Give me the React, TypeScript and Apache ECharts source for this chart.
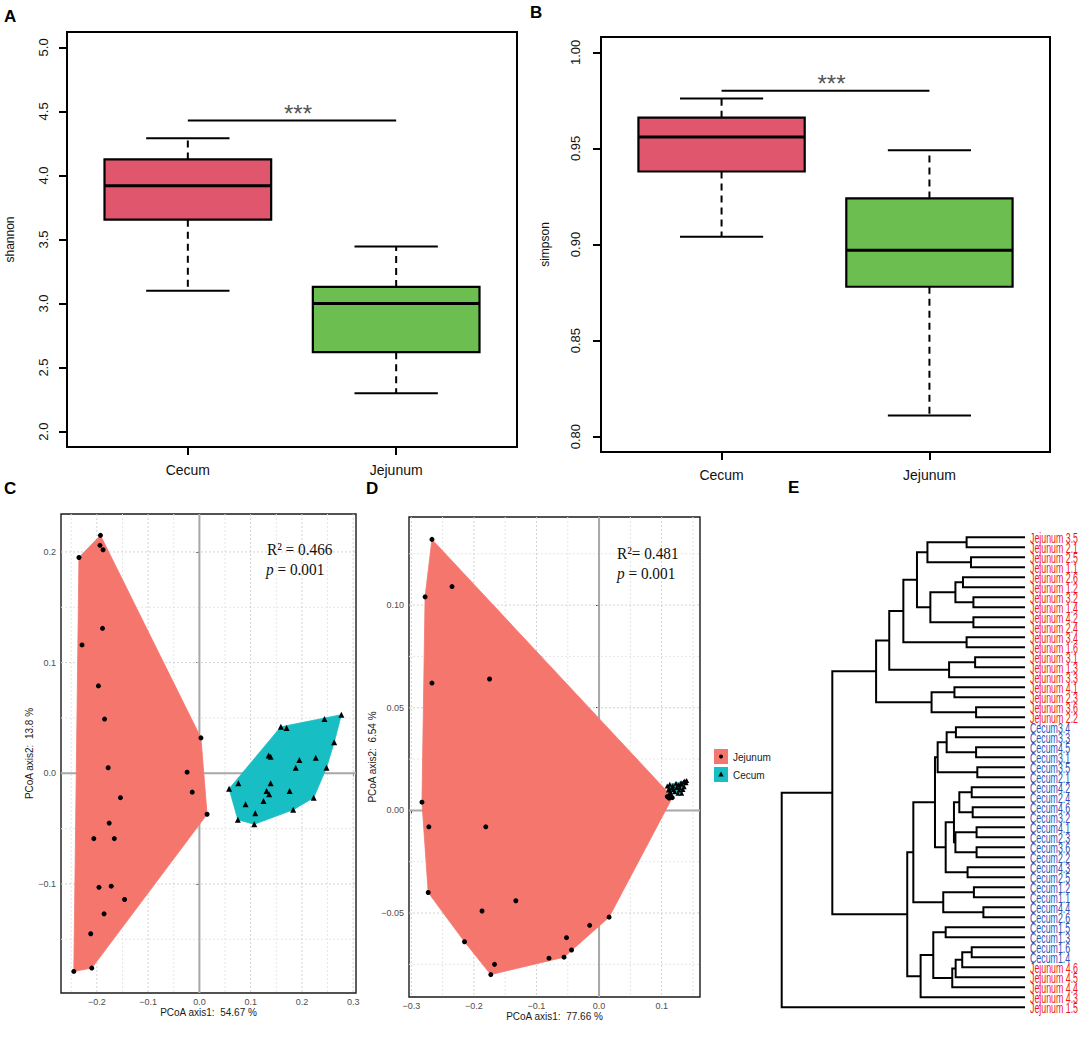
import React, { useEffect, useRef } from "react";
import * as echarts from "echarts";

const FONT = "'Liberation Sans', Arial, Helvetica, sans-serif";
const SERIF = "'Liberation Serif', 'Times New Roman', serif";

// ---------- Panels A / B : boxplots ----------
const groups = ["Cecum", "Jejunum"];
// [min, Q1, median, Q3, max]
const shannonBox = [
  [3.1, 3.655, 3.92, 4.125, 4.29],
  [2.3, 2.62, 3.0, 3.13, 3.445],
];
const simpsonBox = [
  [0.904, 0.938, 0.956, 0.966, 0.976],
  [0.811, 0.878, 0.897, 0.924, 0.949],
];
const shannonTicks = [2.0, 2.5, 3.0, 3.5, 4.0, 4.5, 5.0];
const simpsonTicks = [0.8, 0.85, 0.9, 0.95, 1.0];
const groupTicks = [1, 2];
// [from group, to group, y]
const shannonSig = [[1, 2, 4.43]];
const simpsonSig = [[1, 2, 0.98]];
const sigText = "***";

// ---------- Panels C / D : PCoA ----------
const pcoaC_Jejunum = [
  [-0.193, 0.215], [-0.194, 0.206], [-0.188, 0.202], [-0.235, 0.195], [-0.189, 0.131],
  [-0.229, 0.116], [-0.197, 0.079], [-0.185, 0.049], [0.003, 0.032], [-0.178, 0.005],
  [-0.024, 0.001], [-0.014, -0.017], [-0.154, -0.022], [0.015, -0.037], [-0.176, -0.045],
  [-0.206, -0.059], [-0.166, -0.059], [-0.196, -0.103], [-0.172, -0.102], [-0.146, -0.114],
  [-0.186, -0.127], [-0.212, -0.145], [-0.21, -0.176], [-0.245, -0.179],
];
const pcoaC_Cecum = [
  [0.277, 0.053], [0.244, 0.049], [0.159, 0.042], [0.17, 0.041], [0.263, 0.028],
  [0.135, 0.016], [0.139, 0.015], [0.227, 0.014], [0.195, 0.012], [0.248, 0.005],
  [0.188, 0.005], [0.139, -0.009], [0.076, -0.009], [0.058, -0.014], [0.131, -0.016],
  [0.136, -0.019], [0.176, -0.016], [0.223, -0.022], [0.125, -0.025], [0.09, -0.028],
  [0.109, -0.036], [0.183, -0.033], [0.075, -0.042], [0.107, -0.046],
];
const pcoaD_Jejunum = [
  [-0.267, 0.132], [-0.235, 0.109], [-0.278, 0.104], [-0.175, 0.064], [-0.267, 0.062],
  [-0.283, 0.004], [-0.272, -0.008], [-0.181, -0.008], [-0.273, -0.04], [-0.133, -0.044],
  [-0.187, -0.049], [0.016, -0.052], [-0.015, -0.056], [-0.052, -0.062], [-0.215, -0.064],
  [-0.044, -0.068], [-0.056, -0.0715], [-0.08, -0.072], [-0.167, -0.075], [-0.173, -0.08],
  [0.109, 0.0067], [0.112, 0.006], [0.117, 0.0062], [0.114, 0.0075],
];
const pcoaD_Cecum = [
  [0.109, 0.0119], [0.113, 0.0127], [0.118, 0.012], [0.123, 0.0132], [0.127, 0.0124],
  [0.131, 0.0135], [0.135, 0.0138], [0.137, 0.0143], [0.14, 0.0145], [0.132, 0.0127],
  [0.124, 0.0112], [0.119, 0.0102], [0.114, 0.0093], [0.112, 0.0106], [0.121, 0.0091],
  [0.126, 0.0083], [0.132, 0.0083], [0.128, 0.0099], [0.136, 0.0115], [0.139, 0.0135],
  [0.117, 0.0112], [0.111, 0.0099], [0.129, 0.0112], [0.134, 0.0102],
];
const cMajorX = [-0.2, -0.1, 0, 0.1, 0.2, 0.3];
const cMinorX = [-0.25, -0.15, -0.05, 0.05, 0.15, 0.25];
const cMajorY = [-0.1, 0, 0.1, 0.2];
const cMinorY = [-0.15, -0.05, 0.05, 0.15];
const dMajorX = [-0.3, -0.2, -0.1, 0, 0.1];
const dMinorX = [-0.25, -0.15, -0.05, 0.05, 0.15];
const dMajorY = [-0.05, 0, 0.05, 0.1];
const dMinorY = [-0.075, -0.025, 0.025, 0.075, 0.125];
const zeroLines = [0];

// ---------- Panel E : dendrogram ----------
const dendroLeaves = [
  "Jejunum 3.5", "Jejunum 2.1", "Jejunum 2.5", "Jejunum 1.1", "Jejunum 2.6", "Jejunum 1.2",
  "Jejunum 3.2", "Jejunum 1.4", "Jejunum 4.2", "Jejunum 2.4", "Jejunum 3.4", "Jejunum 1.6",
  "Jejunum 3.1", "Jejunum 1.3", "Jejunum 3.3", "Jejunum 4.1", "Jejunum 2.3", "Jejunum 3.6",
  "Jejunum 2.2", "Cecum3.4", "Cecum3.3", "Cecum4.5", "Cecum3.1", "Cecum3.5", "Cecum2.1",
  "Cecum4.2", "Cecum2.4", "Cecum4.6", "Cecum3.2", "Cecum4.1", "Cecum2.3", "Cecum3.6",
  "Cecum2.2", "Cecum4.3", "Cecum2.5", "Cecum1.2", "Cecum1.1", "Cecum4.4", "Cecum2.6",
  "Cecum1.5", "Cecum1.3", "Cecum1.6", "Cecum1.4", "Jejunum 4.6", "Jejunum 4.5",
  "Jejunum 4.4", "Jejunum 4.3", "Jejunum 1.5",
];
// [child A, child B, height]; numbers = leaf index, "#k" = merge k
const dendroMerges: any[] = [
  [0, 1, 0.24], [2, 3, 0.222], ["#0", "#1", 0.401], [4, 5, 0.255], [6, 7, 0.212],
  ["#3", "#4", 0.286], [8, 9, 0.212], ["#5", "#6", 0.389], ["#2", "#7", 0.444], [10, 11, 0.24],
  ["#8", "#9", 0.5], [12, 13, 0.205], ["#11", 14, 0.312], ["#10", "#12", 0.558], [15, 16, 0.29],
  [17, 18, 0.201], ["#14", "#15", 0.384], ["#13", "#16", 0.612], [19, 20, 0.284], [21, 22, 0.201],
  ["#18", "#19", 0.322], [23, 24, 0.196], ["#20", "#21", 0.359], [25, 26, 0.219], [27, 28, 0.215],
  ["#23", "#24", 0.27], [29, 30, 0.199], [31, 32, 0.199], ["#26", "#27", 0.286], ["#25", "#28", 0.292],
  [33, 34, 0.236], ["#29", "#30", 0.326], ["#22", "#31", 0.37], [35, 36, 0.21], [37, 38, 0.171],
  ["#33", "#34", 0.336], ["#32", "#35", 0.459], [39, 40, 0.326], [41, 42, 0.219], ["#38", 43, 0.258],
  ["#39", 44, 0.285], ["#40", 45, 0.299], ["#37", "#41", 0.377], ["#42", 46, 0.429], ["#36", "#43", 0.484],
  ["#17", "#44", 0.792], ["#45", 47, 1.0],
];

const BOX_COLORS = ["#DF566D", "#6CBE51"];
const JEJ_FILL = "#F4766D";
const CEC_FILL = "#17BEC3";
const JEJ_TEXT = "#F01515";
const CEC_TEXT = "#3050B5";

function convexHull(pts: number[][]) {
  const p = pts.slice().sort((a, b) => a[0] - b[0] || a[1] - b[1]);
  const cross = (o, a, b) => (a[0] - o[0]) * (b[1] - o[1]) - (a[1] - o[1]) * (b[0] - o[0]);
  const lower: number[][] = [];
  for (const q of p) {
    while (lower.length >= 2 && cross(lower[lower.length - 2], lower[lower.length - 1], q) <= 0) lower.pop();
    lower.push(q);
  }
  const upper: number[][] = [];
  for (let i = p.length - 1; i >= 0; i--) {
    const q = p[i];
    while (upper.length >= 2 && cross(upper[upper.length - 2], upper[upper.length - 1], q) <= 0) upper.pop();
    upper.push(q);
  }
  upper.pop();
  lower.pop();
  return lower.concat(upper);
}

function boxSeries(ai: number, boxes: number[][]) {
  return {
    type: "custom",
    xAxisIndex: ai,
    yAxisIndex: ai,
    silent: true,
    z: 3,
    data: boxes.map((b, i) => [i + 1, ...b]),
    renderItem: (params: any, api: any) => {
      const x = api.value(0);
      const yMin = api.coord([x, api.value(1)])[1];
      const yQ1 = api.coord([x, api.value(2)])[1];
      const c = api.coord([x, api.value(3)]);
      const yQ3 = api.coord([x, api.value(4)])[1];
      const yMax = api.coord([x, api.value(5)])[1];
      const cx = c[0];
      const hw = api.size([0.4, 0])[0];
      const cw = api.size([0.2, 0])[0];
      const dash = { stroke: "#000", lineWidth: 2, lineDash: [7, 5] };
      const solid = { stroke: "#000", lineWidth: 2 };
      return {
        type: "group",
        children: [
          { type: "line", shape: { x1: cx, y1: yQ3, x2: cx, y2: yMax }, style: dash },
          { type: "line", shape: { x1: cx, y1: yQ1, x2: cx, y2: yMin }, style: dash },
          { type: "line", shape: { x1: cx - cw, y1: yMax, x2: cx + cw, y2: yMax }, style: solid },
          { type: "line", shape: { x1: cx - cw, y1: yMin, x2: cx + cw, y2: yMin }, style: solid },
          {
            type: "rect",
            shape: { x: cx - hw, y: yQ3, width: 2 * hw, height: yQ1 - yQ3 },
            style: { fill: BOX_COLORS[params.dataIndex], stroke: "#000", lineWidth: 2.2 },
          },
          { type: "line", shape: { x1: cx - hw, y1: c[1], x2: cx + hw, y2: c[1] }, style: { stroke: "#000", lineWidth: 3 } },
        ],
      };
    },
  };
}

function sigSeries(ai: number, sig: number[][]) {
  return {
    type: "custom",
    xAxisIndex: ai,
    yAxisIndex: ai,
    silent: true,
    z: 3,
    data: sig,
    renderItem: (params: any, api: any) => {
      const p1 = api.coord([api.value(0), api.value(2)]);
      const p2 = api.coord([api.value(1), api.value(2)]);
      return {
        type: "group",
        children: [
          { type: "line", shape: { x1: p1[0], y1: p1[1], x2: p2[0], y2: p2[1] }, style: { stroke: "#000", lineWidth: 2 } },
          {
            type: "text",
            x: (p1[0] + p2[0]) / 2 + 6,
            y: p1[1] + 5,
            style: { text: sigText, fill: "#555", fontSize: 24, fontFamily: FONT, align: "center", verticalAlign: "bottom" },
          },
        ],
      };
    },
  };
}

function boxXAxis(gi: number, margin: number) {
  return {
    type: "value",
    gridIndex: gi,
    min: 0.42,
    max: 2.58,
    axisLine: { show: false },
    splitLine: { show: false },
    axisTick: { show: true, length: 8, lineStyle: { color: "#000", width: 2 }, customValues: groupTicks },
    axisLabel: {
      customValues: groupTicks,
      formatter: (v: number) => groups[Math.round(v) - 1],
      margin,
      fontSize: 14,
      color: "#111",
      fontFamily: FONT,
    },
  };
}

function boxYAxis(gi: number, min: number, max: number, ticks: number[], dec: number, name: string, margin: number, gap: number) {
  return {
    type: "value",
    gridIndex: gi,
    min,
    max,
    axisLine: { show: false },
    splitLine: { show: false },
    axisTick: { show: true, length: 8, lineStyle: { color: "#000", width: 2 }, customValues: ticks },
    axisLabel: {
      customValues: ticks,
      rotate: 90,
      formatter: (v: number) => v.toFixed(dec),
      margin,
      fontSize: 13,
      color: "#111",
      fontFamily: FONT,
    },
    name,
    nameLocation: "middle",
    nameRotate: 90,
    nameGap: gap,
    nameTextStyle: { fontSize: 12, color: "#111", fontFamily: FONT },
  };
}

const fmtSigned = (dec: number) => (v: number) => {
  const s = Math.abs(v).toFixed(dec);
  return v < -1e-9 ? "\u2212" + s : s;
};

function pcoaAxis(kind: "x" | "y", gi: number, min: number, max: number, ticks: number[], dec: number, name: string, gap: number) {
  return {
    type: "value",
    gridIndex: gi,
    min,
    max,
    axisLine: { show: false },
    splitLine: { show: false },
    axisTick: { show: true, length: 3, lineStyle: { color: "#333", width: 1 }, customValues: ticks },
    axisLabel: {
      customValues: ticks,
      formatter: fmtSigned(dec),
      margin: kind === "x" ? 4 : 5,
      fontSize: 9,
      color: "#4D4D4D",
      fontFamily: FONT,
    },
    name,
    nameLocation: "middle",
    nameGap: gap,
    nameRotate: kind === "y" ? 90 : 0,
    nameTextStyle: { fontSize: 10, color: "#1A1A1A", fontFamily: FONT },
  };
}

function refLineSeries(ai: number, xs: number[], ys: number[], stroke: string, width: number, dash: any, z: number) {
  const data = [...xs.map((v) => [v, 0]), ...ys.map((v) => [v, 1])];
  return {
    type: "custom",
    xAxisIndex: ai,
    yAxisIndex: ai,
    silent: true,
    z,
    data,
    renderItem: (params: any, api: any) => {
      const cs = params.coordSys;
      const v = api.value(0);
      const o = api.value(1);
      const style = { stroke, lineWidth: width, lineDash: dash };
      if (o === 0) {
        const px = api.coord([v, 0])[0];
        return { type: "line", shape: { x1: px, y1: cs.y, x2: px, y2: cs.y + cs.height }, style };
      }
      const py = api.coord([0, v])[1];
      return { type: "line", shape: { x1: cs.x, y1: py, x2: cs.x + cs.width, y2: py }, style };
    },
  };
}

function hullSeries(ai: number, pts: number[][], fill: string) {
  const hull = convexHull(pts);
  return {
    type: "custom",
    xAxisIndex: ai,
    yAxisIndex: ai,
    silent: true,
    z: 3,
    data: hull,
    renderItem: (params: any, api: any) => {
      if (params.dataIndex !== 0) return null;
      const points = hull.map((p) => api.coord(p));
      return { type: "polygon", shape: { points }, style: { fill, stroke: fill, lineWidth: 0.8 } };
    },
  };
}

function pointSeries(ai: number, pts: number[][], symbol: string, size: number) {
  return {
    type: "scatter",
    xAxisIndex: ai,
    yAxisIndex: ai,
    silent: true,
    z: 4,
    symbol,
    symbolSize: size,
    itemStyle: { color: "#000", opacity: 1 },
    data: pts,
  };
}

// dendrogram layout from merges
const nodeY: number[] = [];
const nodeH: number[] = [];
const dendroSegments = dendroMerges.map(([a, b, h], k) => {
  const ref = (c: any) =>
    typeof c === "number" ? { y: c, h: 0 } : { y: nodeY[+c.slice(1)], h: nodeH[+c.slice(1)] };
  const A = ref(a);
  const B = ref(b);
  nodeY[k] = (A.y + B.y) / 2;
  nodeH[k] = h;
  return [A.h, A.y, B.h, B.y, h];
});

function App() {
  const ref = useRef<HTMLDivElement>(null);
  useEffect(() => {
    document.body.style.margin = "0";
    const chart = echarts.init(ref.current!, null, { renderer: "svg" });
    const gridBase = { show: true, backgroundColor: "transparent", borderColor: "#000", outerBoundsMode: "none", containLabel: false };
    const option: any = {
      animation: false,
      backgroundColor: "#fff",
      grid: [
        { ...gridBase, left: 67, top: 32, width: 450, height: 415, borderWidth: 2 },
        { ...gridBase, left: 601, top: 37, width: 449, height: 415, borderWidth: 2 },
        { ...gridBase, left: 61, top: 514, width: 295, height: 479, borderWidth: 1.4, borderColor: "#1a1a1a" },
        { ...gridBase, left: 409, top: 517, width: 291, height: 480, borderWidth: 1.4, borderColor: "#1a1a1a" },
        { left: 781.7, top: 537.3, width: 243.3, height: 470, show: false, outerBoundsMode: "none", containLabel: false },
      ],
      xAxis: [
        boxXAxis(0, 16),
        boxXAxis(1, 16),
        pcoaAxis("x", 2, -0.27, 0.3055, cMajorX, 1, "PCoA axis1:  54.67 %", 14),
        pcoaAxis("x", 3, -0.3037, 0.1613, dMajorX, 1, "PCoA axis1:  77.66 %", 14),
        { type: "value", gridIndex: 4, min: 0, max: 1, inverse: true, show: false },
      ],
      yAxis: [
        boxYAxis(0, 1.88, 5.12, shannonTicks, 1, "shannon", 17, 51),
        boxYAxis(1, 0.792, 1.008, simpsonTicks, 2, "simpson", 19, 50),
        pcoaAxis("y", 2, -0.1985, 0.2343, cMajorY, 1, "PCoA axis2:  13.8 %", 20),
        pcoaAxis("y", 3, -0.0909, 0.1429, dMajorY, 2, "PCoA axis2:  6.54 %", 26),
        { type: "value", gridIndex: 4, min: 0, max: 47, inverse: true, show: false },
      ],
      series: [
        boxSeries(0, shannonBox),
        sigSeries(0, shannonSig),
        boxSeries(1, simpsonBox),
        sigSeries(1, simpsonSig),
        // C
        refLineSeries(2, cMinorX, cMinorY, "#E6E6E6", 1, [2, 2], 1),
        refLineSeries(2, cMajorX, cMajorY, "#D2D2D2", 1, [2, 2], 1),
        refLineSeries(2, zeroLines, zeroLines, "#A8A8A8", 2, null, 2),
        hullSeries(2, pcoaC_Jejunum, JEJ_FILL),
        hullSeries(2, pcoaC_Cecum, CEC_FILL),
        pointSeries(2, pcoaC_Jejunum, "circle", 5),
        pointSeries(2, pcoaC_Cecum, "triangle", 6),
        // D
        refLineSeries(3, dMinorX, dMinorY, "#E6E6E6", 1, [2, 2], 1),
        refLineSeries(3, dMajorX, dMajorY, "#D2D2D2", 1, [2, 2], 1),
        refLineSeries(3, zeroLines, zeroLines, "#A8A8A8", 2, null, 2),
        hullSeries(3, pcoaD_Jejunum, JEJ_FILL),
        hullSeries(3, pcoaD_Cecum, CEC_FILL),
        pointSeries(3, pcoaD_Jejunum, "circle", 5),
        pointSeries(3, pcoaD_Cecum, "triangle", 5),
        // E
        {
          type: "custom",
          xAxisIndex: 4,
          yAxisIndex: 4,
          silent: true,
          z: 3,
          data: dendroSegments,
          renderItem: (params: any, api: any) => {
            const hA = api.value(0), yA = api.value(1), hB = api.value(2), yB = api.value(3), h = api.value(4);
            const points = [api.coord([hA, yA]), api.coord([h, yA]), api.coord([h, yB]), api.coord([hB, yB])];
            return { type: "polyline", shape: { points }, style: { stroke: "#000", lineWidth: 2, fill: null } };
          },
        },
        {
          type: "custom",
          xAxisIndex: 4,
          yAxisIndex: 4,
          silent: true,
          z: 3,
          data: dendroLeaves.map((_, i) => [0, i]),
          renderItem: (params: any, api: any) => {
            const p = api.coord([api.value(0), api.value(1)]);
            const label = dendroLeaves[params.dataIndex];
            return {
              type: "text",
              x: p[0] + 5,
              y: p[1] + 0.5,
              scaleX: 0.63,
              style: {
                text: label,
                fill: label.startsWith("Jejunum") ? JEJ_TEXT : CEC_TEXT,
                fontSize: 14,
                fontFamily: FONT,
                align: "left",
                verticalAlign: "middle",
              },
            };
          },
        },
      ],
      graphic: [
        { type: "text", x: 4, y: 8, style: { text: "A", fontSize: 17, fontWeight: "bold", fontFamily: FONT, fill: "#000", verticalAlign: "top" } },
        { type: "text", x: 530, y: 4, style: { text: "B", fontSize: 17, fontWeight: "bold", fontFamily: FONT, fill: "#000", verticalAlign: "top" } },
        { type: "text", x: 4, y: 480, style: { text: "C", fontSize: 17, fontWeight: "bold", fontFamily: FONT, fill: "#000", verticalAlign: "top" } },
        { type: "text", x: 366, y: 480, style: { text: "D", fontSize: 17, fontWeight: "bold", fontFamily: FONT, fill: "#000", verticalAlign: "top" } },
        { type: "text", x: 788, y: 479, style: { text: "E", fontSize: 17, fontWeight: "bold", fontFamily: FONT, fill: "#000", verticalAlign: "top" } },
        // C annotation
        { type: "text", x: 267, y: 549, scaleX: 0.9, z: 10, style: { text: "R\u00B2 = 0.466", fontSize: 17, fontFamily: SERIF, fill: "#111", verticalAlign: "middle" } },
        {
          type: "text", x: 266, y: 569, scaleX: 0.9, z: 10,
          style: { text: "{i|p} = 0.001", fontSize: 17, fontFamily: SERIF, fill: "#111", verticalAlign: "middle", rich: { i: { fontStyle: "italic", fontSize: 17, fontFamily: SERIF, fill: "#111" } } },
        },
        // D annotation
        { type: "text", x: 617, y: 553, scaleX: 0.9, z: 10, style: { text: "R\u00B2= 0.481", fontSize: 17, fontFamily: SERIF, fill: "#111", verticalAlign: "middle" } },
        {
          type: "text", x: 617, y: 573, scaleX: 0.9, z: 10,
          style: { text: "{i|p} = 0.001", fontSize: 17, fontFamily: SERIF, fill: "#111", verticalAlign: "middle", rich: { i: { fontStyle: "italic", fontSize: 17, fontFamily: SERIF, fill: "#111" } } },
        },
        // legend
        { type: "rect", shape: { x: 714, y: 749, width: 14, height: 15 }, style: { fill: JEJ_FILL } },
        { type: "circle", shape: { cx: 721, cy: 756.5, r: 2 }, style: { fill: "#000" } },
        { type: "rect", shape: { x: 714, y: 767, width: 14, height: 15 }, style: { fill: CEC_FILL } },
        { type: "polygon", shape: { points: [[721, 771.5], [718.3, 776.5], [723.7, 776.5]] }, style: { fill: "#000" } },
        { type: "text", x: 733, y: 757, style: { text: "Jejunum", fontSize: 10, fontFamily: FONT, fill: "#1A1A1A", verticalAlign: "middle" } },
        { type: "text", x: 733, y: 775, style: { text: "Cecum", fontSize: 10, fontFamily: FONT, fill: "#1A1A1A", verticalAlign: "middle" } },
      ],
    };
    chart.setOption(option);
    return () => chart.dispose();
  }, []);
  return <div ref={ref} style={{ width: 1084, height: 1061 }} />;
}

export default App;
